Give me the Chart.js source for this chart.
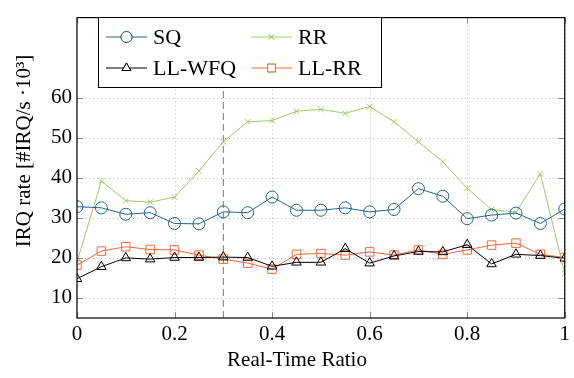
<!DOCTYPE html>
<html>
<head>
<meta charset="utf-8">
<script src="https://cdn.jsdelivr.net/npm/chart.js@4"></script>
<style>
  html, body { margin: 0; padding: 0; background: #fff; }
</style>
</head>
<body>
<canvas id="myChart" width="574" height="378"></canvas>
<script>
const ratios = [0, 0.05, 0.1, 0.15, 0.2, 0.25, 0.3, 0.35, 0.4, 0.45, 0.5, 0.55, 0.6, 0.65, 0.7, 0.75, 0.8, 0.85, 0.9, 0.95, 1];
const sq    = [32.8, 32.5, 30.9, 31.3, 28.6, 28.5, 31.5, 31.3, 35.2, 31.9, 31.9, 32.5, 31.5, 32.1, 37.3, 35.4, 29.8, 30.7, 31.2, 28.6, 32.2];
const rr    = [19.0, 39.2, 34.3, 33.9, 35.2, 41.7, 49.0, 54.0, 54.3, 56.6, 57.1, 56.1, 57.8, 54.0, 49.0, 44.0, 37.4, 32.1, 31.4, 41.0, 16.2];
const llwfq = [14.8, 17.8, 20.0, 19.7, 20.1, 20.1, 20.2, 20.1, 17.9, 18.9, 18.9, 22.3, 18.7, 20.5, 21.6, 21.5, 23.3, 18.5, 20.9, 20.6, 19.9];
const llrr  = [18.2, 21.7, 22.8, 22.1, 22.0, 20.7, 19.7, 18.7, 17.2, 20.9, 21.1, 20.7, 21.5, 20.7, 22.0, 20.9, 22.0, 23.2, 23.7, 20.9, 20.1];
const yTicks = [10, 20, 30, 40, 50, 60];
const xTicks = [0, 0.2, 0.4, 0.6, 0.8, 1];
const markerX = 0.3;

const FONT = '"Liberation Serif", "DejaVu Serif", serif';

const pts = arr => arr.map((v, i) => ({ x: ratios[i], y: v }));

const series = [
    { label: 'SQ', data: sq, color: '#24628f', style: 'circle', r: 6 },
    { label: 'RR', data: rr, color: '#9ccb62', style: 'crossRot', r: 4 },
    { label: 'LL-WFQ', data: llwfq, color: '#000000', style: 'triangle', r: 5.5 },
    { label: 'LL-RR', data: llrr, color: '#f2683a', style: 'rect', r: 6 },
];

const datasets = series.map(s => ({
    label: s.label,
    data: pts(s.data),
    borderColor: s.color,
    backgroundColor: 'rgba(0,0,0,0)',
    borderWidth: 1,
    pointStyle: s.style,
    pointRadius: s.r,
    pointBorderColor: s.color,
    pointBackgroundColor: 'rgba(0,0,0,0)',
    pointBorderWidth: 1,
    tension: 0,
}));

// dashed vertical marker at 0.3, drawn through the scales
datasets.push({
    label: 'marker',
    data: [{ x: markerX, y: 5 }, { x: markerX, y: 80 }],
    borderColor: '#777',
    borderWidth: 1,
    borderDash: [7, 4],
    pointRadius: 0,
    order: 10,
});

const gridPlugin = {
    id: 'dotgrid',
    beforeDatasetsDraw(chart) {
        const { ctx, chartArea: a, scales } = chart;
        ctx.save();
        ctx.strokeStyle = '#b4b4b4';
        ctx.lineWidth = 1;
        ctx.setLineDash([1, 3]);
        ctx.beginPath();
        yTicks.forEach(v => {
            const y = Math.round(scales.y.getPixelForValue(v)) + 0.5;
            ctx.moveTo(a.left, y); ctx.lineTo(a.right, y);
        });
        xTicks.forEach(v => {
            const x = Math.round(scales.x.getPixelForValue(v)) + 0.5;
            ctx.moveTo(x, a.top); ctx.lineTo(x, a.bottom);
        });
        ctx.stroke();
        ctx.restore();
    }
};

const framePlugin = {
    id: 'frame',
    afterDraw(chart) {
        const { ctx, chartArea: a, scales } = chart;
        ctx.save();
        // tick marks (inward, on all four sides)
        ctx.strokeStyle = '#888';
        ctx.lineWidth = 1;
        ctx.beginPath();
        yTicks.forEach(v => {
            const y = Math.round(scales.y.getPixelForValue(v)) + 0.5;
            ctx.moveTo(a.left, y); ctx.lineTo(a.left + 6, y);
            ctx.moveTo(a.right, y); ctx.lineTo(a.right - 6, y);
        });
        xTicks.forEach(v => {
            const x = Math.round(scales.x.getPixelForValue(v)) + 0.5;
            ctx.moveTo(x, a.bottom); ctx.lineTo(x, a.bottom - 6);
            ctx.moveTo(x, a.top); ctx.lineTo(x, a.top + 6);
        });
        ctx.stroke();

        // frame
        ctx.strokeStyle = '#000';
        ctx.lineWidth = 1.2;
        ctx.strokeRect(a.left, a.top, a.right - a.left, a.bottom - a.top);

        // axis titles
        ctx.fillStyle = '#000';
        ctx.font = '21px ' + FONT;
        ctx.textAlign = 'center';
        ctx.textBaseline = 'middle';
        ctx.fillText('Real-Time Ratio', 297, 360);
        ctx.save();
        ctx.translate(24, 151);
        ctx.rotate(-Math.PI / 2);
        ctx.fillText('IRQ rate [#IRQ/s \u00b710\u00b3]', 0, 0);
        ctx.restore();

        // legend box
        const bx = 98, by = 17, bw = 283, bh = 70;
        ctx.fillStyle = '#fff';
        ctx.fillRect(bx, by, bw, bh);
        ctx.strokeStyle = '#000';
        ctx.lineWidth = 1;
        ctx.strokeRect(bx + 0.5, by + 0.5, bw, bh);
        const cols = [106, 251];
        const rows = [37, 68];
        series.forEach((s, i) => {
            const x0 = cols[i % 2], y0 = rows[Math.floor(i / 2)];
            ctx.strokeStyle = s.color;
            ctx.lineWidth = 1;
            ctx.beginPath();
            ctx.moveTo(x0, y0); ctx.lineTo(x0 + 41, y0);
            ctx.stroke();
            Chart.helpers.drawPoint(ctx, {
                pointStyle: s.style, radius: s.r - 0.5, borderWidth: 1, rotation: 0
            }, x0 + 20.5, y0);
            ctx.fillStyle = '#fff';
            ctx.fill();
            ctx.stroke();
            ctx.fillStyle = '#000';
            ctx.textAlign = 'left';
            ctx.textBaseline = 'middle';
            ctx.font = '22px ' + FONT;
            ctx.fillText(s.label, x0 + 47, y0 + 1);
        });
        ctx.restore();
    }
};

const ctx = document.getElementById('myChart').getContext('2d');

new Chart(ctx, {
    type: 'line',
    data: { datasets },
    options: {
        responsive: false,
        animation: false,
        layout: { padding: { top: 10, right: 5, left: 0, bottom: 0 } },
        plugins: {
            legend: { display: false },
            tooltip: { enabled: false },
        },
        scales: {
            x: {
                type: 'linear',
                min: 0,
                max: 1,
                afterBuildTicks: s => { s.ticks = xTicks.map(v => ({ value: v })); },
                afterFit: s => { s.height = 60; },
                ticks: {
                    color: '#000',
                    font: { family: FONT, size: 21 },
                    padding: 4,
                    maxRotation: 0,
                    callback: v => String(v),
                },
                grid: { display: false, drawTicks: false },
                border: { display: false },
            },
            y: {
                min: 5,
                max: 80,
                afterBuildTicks: s => { s.ticks = yTicks.map(v => ({ value: v })); },
                afterFit: s => { s.width = 77; },
                ticks: {
                    color: '#000',
                    font: { family: FONT, size: 21 },
                    padding: 5,
                },
                grid: { display: false, drawTicks: false },
                border: { display: false },
            }
        }
    },
    plugins: [gridPlugin, framePlugin]
});
</script>
</body>
</html>
